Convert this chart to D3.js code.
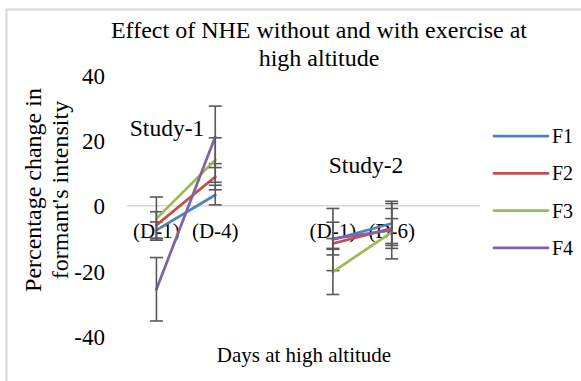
<!DOCTYPE html>
<html>
<head>
<meta charset="utf-8">
<script src="https://cdn.jsdelivr.net/npm/d3@7"></script>
<style>
    body { margin: 0; background: #fff; }
</style>
</head>
<body>
<div id="container"></div>
<script>
// categories ("" = empty slot between the two studies)
const categories = ["(D-1)", "(D-4)", "", "(D-1)", "(D-6)", ""];
const seriesNames = ["F1", "F2", "F3", "F4"];
const colors = ["#4F81BD", "#C0504D", "#9BBB59", "#8064A2"];

// percentage change per category
const f1 = [-7.4, 3.3, null, -10.3, -5.4, null];
const f2 = [-5.9, 8.9, null, -11.5, -6.9, null];
const f3 = [-3.9, 14, null, -20.2, -8, null];
const f4 = [-25.5, 21.1, null, -10, -7.4, null];

// error bar half-lengths
const e1 = [2.5, 3, null, 9.5, 6.1, null];
const e2 = [4.1, 4, null, 1.5, 6.1, null];
const e3 = [6.6, 6.8, null, 6.9, 4.1, null];
const e4 = [9.7, 9.4, null, 5, 8.8, null];

const yTicks = [-40, -20, 0, 20, 40];
const studies = ["Study-1", "Study-2"];

const width = 581;
const height = 381;
const serif = "'Liberation Serif', Tinos, 'Times New Roman', 'DejaVu Serif', serif";

const svg = d3.select("#container").append("svg")
    .attr("width", width)
    .attr("height", height)
    .style("font-family", serif);

// chart border
svg.append("rect")
    .attr("x", 6.5).attr("y", 9.5)
    .attr("width", 700).attr("height", 500)
    .attr("fill", "none")
    .attr("stroke", "#d9d9d9")
    .attr("stroke-width", 2);

//-----------------------------SCALES-----------------------------//

const xScale = d3.scaleBand()
    .domain(d3.range(categories.length))
    .range([127, 480]);

const yScale = d3.scaleLinear()
    .domain([-40, 40])
    .range([336.7, 75]);

const cx = function (i) { return xScale(i) + xScale.bandwidth() / 2; };

//-----------------------------AXES------------------------------//

const yaxis = d3.axisLeft(yScale)
    .tickValues(yTicks)
    .tickFormat(function (d) { return String(d); })
    .tickSize(0)
    .tickPadding(0);
const gy = svg.append("g")
    .attr("transform", "translate(105,0)")
    .call(yaxis);
gy.attr("font-family", null).attr("font-size", null);
gy.select(".domain").remove();
gy.selectAll("text")
    .style("font-family", serif)
    .attr("font-size", 23)
    .attr("fill", "#000")
    .attr("dy", "0.35em");

// horizontal axis line at zero
svg.append("line")
    .attr("x1", 127).attr("x2", 480)
    .attr("y1", yScale(0)).attr("y2", yScale(0))
    .attr("stroke", "#d9d9d9")
    .attr("stroke-width", 1.5);

// category labels next to the zero line
svg.append("g").selectAll("text")
    .data(categories)
    .enter()
    .append("text")
    .attr("x", function (d, i) { return cx(i); })
    .attr("y", yScale(0) + 32)
    .attr("text-anchor", "middle")
    .attr("font-size", 21)
    .text(function (d) { return d; });

//----------------------------LINES------------------------------//

const values = [f1, f2, f3, f4];
const errors = [e1, e2, e3, e4];

const slices = seriesNames.map(function (name, k) {
    return {
        id: name,
        color: colors[k],
        values: categories.map(function (c, i) {
            return { i: i, v: values[k][i], e: errors[k][i] };
        })
    };
});

const line = d3.line()
    .defined(function (d) { return d.v !== null; })
    .x(function (d) { return cx(d.i); })
    .y(function (d) { return yScale(d.v); });

const lines = svg.selectAll(".series")
    .data(slices)
    .enter()
    .append("g")
    .attr("class", "series");

lines.append("path")
    .attr("d", function (d) { return line(d.values); })
    .attr("fill", "none")
    .attr("stroke", function (d) { return d.color; })
    .attr("stroke-width", 2.75)
    .attr("stroke-linecap", "round");

// error bars
const bars = lines.selectAll(".err")
    .data(function (d) { return d.values.filter(function (p) { return p.v !== null; }); })
    .enter()
    .append("g")
    .attr("stroke", "#595959")
    .attr("stroke-width", 1.6);

bars.append("line")
    .attr("x1", function (d) { return cx(d.i); })
    .attr("x2", function (d) { return cx(d.i); })
    .attr("y1", function (d) { return yScale(d.v + d.e); })
    .attr("y2", function (d) { return yScale(d.v - d.e); });

[1, -1].forEach(function (s) {
    bars.append("line")
        .attr("x1", function (d) { return cx(d.i) - 6.5; })
        .attr("x2", function (d) { return cx(d.i) + 6.5; })
        .attr("y1", function (d) { return yScale(d.v + s * d.e); })
        .attr("y2", function (d) { return yScale(d.v + s * d.e); });
});

//----------------------------TEXT------------------------------//

svg.append("text")
    .attr("x", 319).attr("y", 38)
    .attr("text-anchor", "middle")
    .attr("font-size", 24)
    .text("Effect of NHE without and with exercise at");
svg.append("text")
    .attr("x", 319).attr("y", 66)
    .attr("text-anchor", "middle")
    .attr("font-size", 24)
    .text("high altitude");

svg.append("text")
    .attr("transform", "translate(41,190) rotate(-90)")
    .attr("text-anchor", "middle")
    .attr("font-size", 24)
    .text("Percentage change in");
svg.append("text")
    .attr("transform", "translate(68,190) rotate(-90)")
    .attr("text-anchor", "middle")
    .attr("font-size", 24)
    .text("formant's intensity");

svg.append("text")
    .attr("x", 304).attr("y", 362)
    .attr("text-anchor", "middle")
    .attr("font-size", 21)
    .text("Days at high altitude");

svg.append("text")
    .attr("x", 167).attr("y", 136)
    .attr("text-anchor", "middle")
    .attr("font-size", 23.5)
    .text(studies[0]);
svg.append("text")
    .attr("x", 366).attr("y", 173)
    .attr("text-anchor", "middle")
    .attr("font-size", 23.5)
    .text(studies[1]);

//----------------------------LEGEND------------------------------//

const legend = svg.selectAll(".legend")
    .data(slices)
    .enter()
    .append("g")
    .attr("transform", function (d, k) { return "translate(494," + (136 + k * 37.3) + ")"; });

legend.append("line")
    .attr("x1", 0).attr("x2", 54)
    .attr("stroke", function (d) { return d.color; })
    .attr("stroke-width", 2.75)
    .attr("stroke-linecap", "round");

legend.append("text")
    .attr("x", 58)
    .attr("dy", "0.35em")
    .attr("font-size", 20)
    .text(function (d) { return d.id; });
</script>
</body>
</html>
